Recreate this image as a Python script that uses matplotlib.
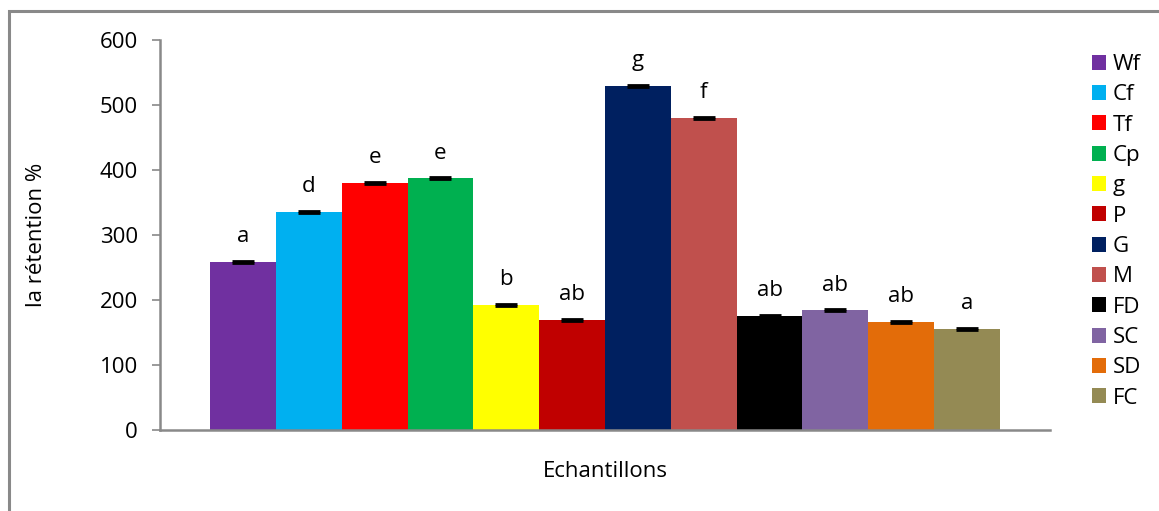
import matplotlib
matplotlib.use('Agg')
import matplotlib.pyplot as plt
from matplotlib.patches import Rectangle, Patch
import numpy as np

samples = ['Wf', 'Cf', 'Tf', 'Cp', 'g', 'P', 'G', 'M', 'FD', 'SC', 'SD', 'FC']
retention = [258, 336, 380, 387, 193, 169, 529, 480, 175, 184, 166, 156]
errors = [1.5, 1.5, 1.5, 1.5, 1.5, 1.5, 1.5, 1.5, 1.5, 1.5, 1.5, 1.5]
letters = ['a', 'd', 'e', 'e', 'b', 'ab', 'g', 'f', 'ab', 'ab', 'ab', 'a']
colors = ['#7030a0', '#00b0f0', '#ff0000', '#00b050', '#ffff00', '#c00000',
          '#002060', '#c0504d', '#000000', '#8064a2', '#e36c09', '#948a54']

plt.rcParams['font.family'] = ['Open Sans', 'DejaVu Sans']
GREY = '#898989'
FS = 16

fig = plt.figure(figsize=(11.59, 5.11), dpi=100)
# outer chart frame (open to the right and bottom)
fig.patches.append(Rectangle((9 / 1159, -0.1), 1.2, 1 - 11 / 511 + 0.1,
                             transform=fig.transFigure, fill=False,
                             edgecolor=GREY, linewidth=2.2))

ax = fig.add_axes([160 / 1159, 1 - 430 / 511, 890 / 1159, 390 / 511])
x = np.arange(len(samples))
ax.bar(x, retention, width=1.0, color=colors, yerr=errors,
       error_kw=dict(ecolor='black', elinewidth=1.2, capsize=8, capthick=2))

for xi, v, e, lab in zip(x, retention, errors, letters):
    ax.annotate(lab, (xi, v + e), xytext=(0, 10), textcoords='offset points',
                ha='center', va='bottom', fontsize=FS)

ax.set_xlim(-1.26, 12.26)
ax.set_ylim(0, 600)
ax.set_yticks(range(0, 601, 100))
ax.set_xticks([])
ax.tick_params(axis='y', labelsize=FS, length=6, width=1.2, color=GREY, pad=10)
for s in ('top', 'right'):
    ax.spines[s].set_visible(False)
for s in ('left', 'bottom'):
    ax.spines[s].set_color(GREY)
    ax.spines[s].set_linewidth(1.8)
ax.set_ylabel('la rétention %', fontsize=FS, labelpad=38)
ax.set_xlabel('Echantillons', fontsize=FS, labelpad=22)

handles = [Patch(facecolor=c, edgecolor='none') for c in colors]
fig.legend(handles, samples, loc='upper left',
           bbox_to_anchor=(1092 / 1159, 1 - 54 / 511), frameon=False,
           fontsize=FS, handlelength=0.65, handleheight=0.65,
           handletextpad=0.3, labelspacing=0.42, borderpad=0, borderaxespad=0)

fig.savefig('out.png', dpi=100)
